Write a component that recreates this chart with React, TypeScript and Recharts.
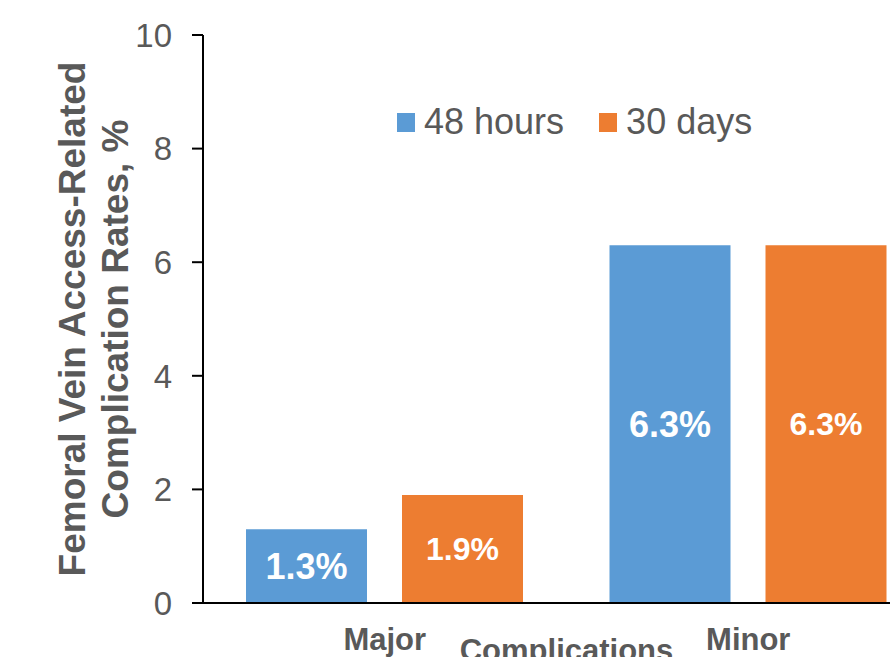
import React from 'react';
import { BarChart, Bar, XAxis, YAxis, Legend, LabelList } from 'recharts';

const categories = ['Major', 'Minor'];
const hours48 = [1.3, 6.3];
const days30 = [1.9, 6.3];
const seriesNames = ['48 hours', '30 days'];
const yTicks = [0, 2, 4, 6, 8, 10];
const xTitle = 'Complications';
const yTitleLines = ['Femoral Vein Access-Related', 'Complication Rates, %'];

const data = categories.map((name, i) => ({ name, h48: hours48[i], d30: days30[i] }));

const FONT = '"Liberation Sans", Arial, sans-serif';
const GRAY = '#595959';
const BLUE = '#5B9BD5';
const ORANGE = '#ED7D31';

const YTitle = (props: any) => {
  const vb = props.viewBox || { x: 0, y: 35, width: 203, height: 568 };
  const cy = vb.y + vb.height / 2;
  return (
    <g>
      {yTitleLines.map((line, i) => {
        const x = vb.x + 85 + i * 43;
        return (
          <text
            key={line}
            x={x}
            y={cy}
            transform={`rotate(-90, ${x}, ${cy})`}
            textAnchor="middle"
            fontFamily={FONT}
            fontWeight="bold"
            fontSize={37}
            fill={GRAY}
          >
            {line}
          </text>
        );
      })}
    </g>
  );
};

const renderLegend = (props: any) => {
  const payload = [...(props.payload || [])].sort(
    (a: any, b: any) => seriesNames.indexOf(a.value) - seriesNames.indexOf(b.value)
  );
  return (
    <div style={{ display: 'flex', alignItems: 'center', fontFamily: FONT, fontSize: 36, lineHeight: '40px', color: GRAY, whiteSpace: 'nowrap' }}>
      {payload.map((p: any, i: number) => (
        <div key={i} style={{ display: 'flex', alignItems: 'center', marginRight: 35 }}>
          <span style={{ display: 'inline-block', width: 18, height: 19, background: p.color, marginRight: 9 }} />
          <span>{p.value}</span>
        </div>
      ))}
    </div>
  );
};

export default function App() {
  return (
    <div style={{ position: 'absolute', left: 0, top: 0, width: 890, height: 657, overflow: 'hidden', background: '#fff' }}>
      <BarChart
        width={930}
        height={657}
        data={data}
        margin={{ top: 35, right: 0, bottom: 0, left: 0 }}
        barGap={35}
      >
        <XAxis
          dataKey="name"
          height={54}
          tickLine={false}
          tickSize={0}
          tickMargin={25}
          axisLine={{ stroke: '#000', strokeWidth: 2 }}
          tick={{ fill: GRAY, fontFamily: FONT, fontWeight: 'bold', fontSize: 31 }}
          label={{ value: xTitle, position: 'insideBottom', offset: -4, fill: GRAY, fontFamily: FONT, fontWeight: 'bold', fontSize: 31 }}
        />
        <YAxis
          width={203}
          domain={[0, 10]}
          ticks={yTicks}
          interval={0}
          tickSize={11}
          tickMargin={20}
          tickLine={{ stroke: '#000', strokeWidth: 2 }}
          axisLine={{ stroke: '#000', strokeWidth: 2 }}
          tick={{ fill: GRAY, fontFamily: FONT, fontSize: 33 }}
          label={{ content: YTitle }}
        />
        <Legend
          layout="horizontal"
          verticalAlign="middle"
          align="center"
          itemSorter={null}
          content={renderLegend}
          wrapperStyle={{ top: 102, left: 397, width: 'auto' }}
        />
        <Bar dataKey="h48" name={seriesNames[0]} fill={BLUE} barSize={121} isAnimationActive={false}>
          <LabelList
            dataKey="h48"
            position="center"
            formatter={(v: any) => `${v}%`}
            fill="#fff"
            fontFamily={FONT}
            fontWeight="bold"
            fontSize={36}
          />
        </Bar>
        <Bar dataKey="d30" name={seriesNames[1]} fill={ORANGE} barSize={121} isAnimationActive={false}>
          <LabelList
            dataKey="d30"
            position="center"
            formatter={(v: any) => `${v}%`}
            fill="#fff"
            fontFamily={FONT}
            fontWeight="bold"
            fontSize={32}
          />
        </Bar>
      </BarChart>
    </div>
  );
}
